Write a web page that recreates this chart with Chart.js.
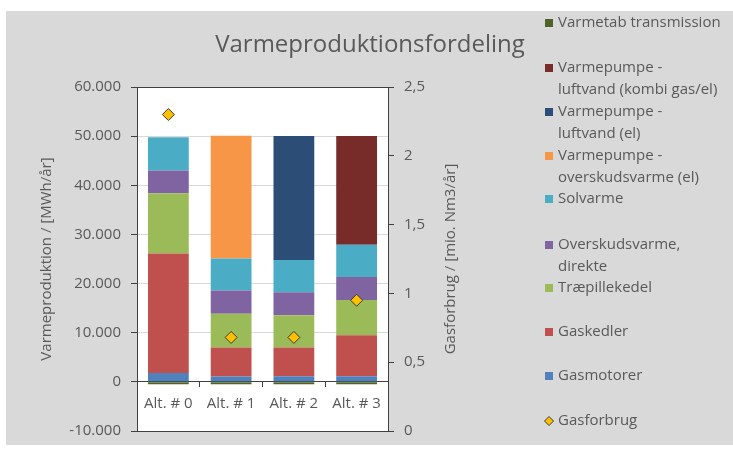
<!DOCTYPE html>
<html>
<head>
<meta charset="utf-8">
<script src="https://cdn.jsdelivr.net/npm/chart.js@4"></script>
<style>
  html, body { margin: 0; padding: 0; background: #fff; }
</style>
</head>
<body>
<canvas id="chart" width="733" height="451"></canvas>
<script>
// categories and values
const categories = ['Alt. # 0', 'Alt. # 1', 'Alt. # 2', 'Alt. # 3'];

const varmetab = [-500, -500, -500, -500];
const gasmotorer = [1800, 1100, 1150, 1150];
const gaskedler = [24300, 5900, 5850, 8350];
const traepillekedel = [12300, 6850, 6550, 7150];
const overskudDirekte = [4600, 4750, 4700, 4700];
const solvarme = [6800, 6500, 6550, 6550];
const vpOverskud = [0, 25000, 0, 0];
const vpLuftvandEl = [0, 0, 25250, 0];
const vpLuftvandKombi = [0, 0, 0, 22150];
const gasforbrug = [2.3, 0.68, 0.68, 0.95];

const seriesNames = [
  'Varmetab transmission',
  'Gasmotorer',
  'Gaskedler',
  'Træpillekedel',
  'Overskudsvarme,\ndirekte',
  'Solvarme',
  'Varmepumpe -\noverskudsvarme (el)',
  'Varmepumpe -\nluftvand (el)',
  'Varmepumpe -\nluftvand (kombi gas/el)',
  'Gasforbrug'
];
const leftTickLabels = ['-10.000', '0', '10.000', '20.000', '30.000', '40.000', '50.000', '60.000'];
const rightTickLabels = ['0', '0,5', '1', '1,5', '2', '2,5'];

const textColor = '#595959';
const axisColor = '#404040';
Chart.defaults.font.family = "'Open Sans', sans-serif";
Chart.defaults.font.size = 15;
Chart.defaults.color = textColor;

const barColors = ['#4F6228', '#4F81BD', '#C0504D', '#9BBB59', '#8064A2',
                   '#4BACC6', '#F79646', '#2C4D75', '#772C2A'];
const barValues = [varmetab, gasmotorer, gaskedler, traepillekedel, overskudDirekte,
                   solvarme, vpOverskud, vpLuftvandEl, vpLuftvandKombi];

const datasets = barValues.map((vals, i) => ({
  type: 'bar',
  label: seriesNames[i],
  data: vals,
  backgroundColor: barColors[i],
  borderWidth: 0,
  yAxisID: 'y',
  barPercentage: 0.65,
  categoryPercentage: 1
}));
datasets.push({
  type: 'line',
  label: seriesNames[9],
  data: gasforbrug,
  yAxisID: 'y1',
  showLine: false,
  order: -1,
  pointStyle: 'rectRot',
  pointRadius: 6,
  pointBackgroundColor: '#FFC000',
  pointBorderColor: '#3a3a3a',
  pointBorderWidth: 1
});

// legend top-to-bottom (dataset indices) and first-line y of each entry
const legendOrder = [0, 8, 7, 6, 5, 4, 3, 2, 1, 9];
const legendY = [23, 68, 112, 156, 199, 245, 288, 332, 376, 421];

const frame = {
  id: 'frame',
  beforeDraw(chart) {
    const { ctx, chartArea: a } = chart;
    ctx.save();
    ctx.fillStyle = '#ffffff';
    ctx.fillRect(0, 0, chart.width, chart.height);
    ctx.fillStyle = '#d9d9d9';
    ctx.fillRect(6, 11, chart.width - 6, 434);
    ctx.fillStyle = '#ffffff';
    ctx.fillRect(a.left, a.top, a.right - a.left, a.bottom - a.top);
    ctx.restore();
  },
  afterDraw(chart) {
    const { ctx, chartArea: a } = chart;
    ctx.save();
    // plot area border
    ctx.strokeStyle = axisColor;
    ctx.lineWidth = 1;
    ctx.strokeRect(a.left + 0.5, a.top + 0.5, a.right - a.left, a.bottom - a.top);

    // title
    ctx.fillStyle = textColor;
    ctx.font = "24px 'Open Sans', sans-serif";
    ctx.textAlign = 'center';
    ctx.textBaseline = 'alphabetic';
    ctx.fillText('Varmeproduktionsfordeling', 370, 52);

    // right axis title, reading bottom-up
    ctx.font = "15px 'Open Sans', sans-serif";
    ctx.save();
    ctx.translate(451, (a.top + a.bottom) / 2);
    ctx.rotate(-Math.PI / 2);
    ctx.textBaseline = 'middle';
    ctx.fillText('Gasforbrug / [mio. Nm3/år]', 0, 0);
    ctx.restore();

    // legend
    ctx.textAlign = 'left';
    ctx.textBaseline = 'middle';
    legendOrder.forEach((idx, k) => {
      const ds = chart.data.datasets[idx];
      const y = legendY[k];
      if (ds.type === 'line') {
        ctx.beginPath();
        ctx.moveTo(549, y - 4.5);
        ctx.lineTo(553.5, y);
        ctx.lineTo(549, y + 4.5);
        ctx.lineTo(544.5, y);
        ctx.closePath();
        ctx.fillStyle = ds.pointBackgroundColor;
        ctx.fill();
        ctx.strokeStyle = ds.pointBorderColor;
        ctx.stroke();
      } else {
        ctx.fillStyle = ds.backgroundColor;
        ctx.fillRect(545, y - 4, 8, 8);
      }
      ctx.fillStyle = textColor;
      ds.label.split('\n').forEach((line, j) => {
        ctx.fillText(line, 558, y + j * 21.5);
      });
    });
    ctx.restore();
  }
};

new Chart(document.getElementById('chart'), {
  data: { labels: categories, datasets: datasets },
  options: {
    responsive: false,
    animation: false,
    layout: { padding: { left: 6, right: 265, top: 87, bottom: 20 } },
    plugins: {
      legend: { display: false },
      title: { display: false },
      tooltip: { enabled: false }
    },
    scales: {
      x: {
        stacked: true,
        position: { y: 0 },
        z: 1,
        grid: { drawOnChartArea: false, drawTicks: true, tickLength: 5, tickColor: axisColor, offset: true },
        border: { display: true, color: axisColor, width: 1 },
        ticks: { color: textColor, padding: 8, maxRotation: 0 }
      },
      y: {
        stacked: true,
        position: 'left',
        min: -10000,
        max: 60000,
        ticks: {
          stepSize: 10000,
          padding: 10,
          callback: (v, i) => leftTickLabels[i]
        },
        grid: { color: '#d9d9d9', tickColor: axisColor, tickLength: 6 },
        border: { color: axisColor },
        title: {
          display: true,
          text: 'Varmeproduktion / [MWh/år]',
          color: textColor,
          padding: { top: 32, bottom: 0 }
        },
        afterFit(scale) { scale.width = 131; }
      },
      y1: {
        position: 'right',
        min: 0,
        max: 2.5,
        ticks: {
          stepSize: 0.5,
          padding: 10,
          callback: (v, i) => rightTickLabels[i]
        },
        grid: { drawOnChartArea: false, tickColor: axisColor, tickLength: 6 },
        border: { color: axisColor },
        afterFit(scale) { scale.width = 80; }
      }
    }
  },
  plugins: [frame]
});
</script>
</body>
</html>
